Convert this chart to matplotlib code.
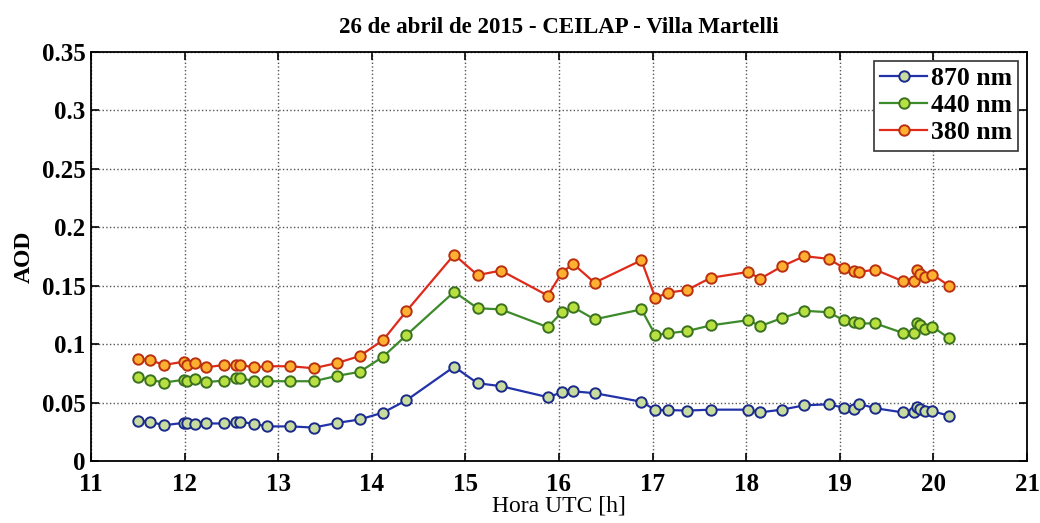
import numpy as np
import matplotlib.pyplot as plt

# hora UTC [h]
hora = [11.50, 11.63, 11.78, 11.99, 12.03, 12.11, 12.23, 12.42, 12.55, 12.59,
        12.74, 12.88, 13.13, 13.38, 13.63, 13.87, 14.12, 14.37, 14.88, 15.13,
        15.38, 15.88, 16.03, 16.15, 16.38, 16.88, 17.03, 17.16, 17.37, 17.62,
        18.02, 18.15, 18.38, 18.62, 18.88, 19.04, 19.15, 19.20, 19.38, 19.67,
        19.79, 19.83, 19.86, 19.91, 19.99, 20.17]

aod_870 = [0.0347, 0.0339, 0.0310, 0.0330, 0.0325, 0.0320, 0.0325, 0.0325, 0.0336, 0.0340,
           0.0322, 0.0300, 0.0300, 0.0290, 0.0330, 0.0359, 0.0418, 0.0523, 0.0810, 0.0669,
           0.0644, 0.0550, 0.0590, 0.0600, 0.0584, 0.0511, 0.0440, 0.0440, 0.0435, 0.0443,
           0.0443, 0.0420, 0.0443, 0.0480, 0.0489, 0.0460, 0.0452, 0.0494, 0.0455, 0.0420,
           0.0420, 0.0463, 0.0450, 0.0435, 0.0430, 0.0390]

aod_440 = [0.0720, 0.0698, 0.0675, 0.0698, 0.0692, 0.0706, 0.0678, 0.0692, 0.0715, 0.0715,
           0.0686, 0.0686, 0.0686, 0.0686, 0.0732, 0.0766, 0.0895, 0.1080, 0.1450, 0.1310,
           0.1300, 0.1148, 0.1275, 0.1320, 0.1215, 0.1300, 0.1080, 0.1095, 0.1115, 0.1163,
           0.1208, 0.1157, 0.1225, 0.1288, 0.1276, 0.1208, 0.1194, 0.1180, 0.1180, 0.1100,
           0.1100, 0.1180, 0.1166, 0.1130, 0.1152, 0.1052]

aod_380 = [0.0876, 0.0867, 0.0825, 0.0853, 0.0828, 0.0842, 0.0805, 0.0825, 0.0825, 0.0825,
           0.0805, 0.0814, 0.0814, 0.0797, 0.0842, 0.0901, 0.1037, 0.1285, 0.1768, 0.1593,
           0.1632, 0.1418, 0.1613, 0.1690, 0.1528, 0.1720, 0.1396, 0.1443, 0.1466, 0.1570,
           0.1620, 0.1562, 0.1667, 0.1755, 0.1732, 0.1656, 0.1627, 0.1620, 0.1639, 0.1542,
           0.1542, 0.1633, 0.1605, 0.1580, 0.1598, 0.1500]

plt.rcParams['font.family'] = ['Liberation Serif', 'DejaVu Serif']

fig = plt.figure(figsize=(10.4, 5.23), dpi=100)
ax = fig.add_axes([0.0875, 0.1176, 0.9, 0.783])

ax.plot(hora, aod_870, '-o', color='#2233aa', lw=1.6, ms=7.5,
        mfc='#c8dca0', mec='#1a2a8a', mew=1.4, label='870 nm')
ax.plot(hora, aod_440, '-o', color='#3d8a2a', lw=1.6, ms=7.5,
        mfc='#b8e040', mec='#3a7020', mew=1.4, label='440 nm')
ax.plot(hora, aod_380, '-o', color='#dd2a1a', lw=1.6, ms=7.5,
        mfc='#ffb030', mec='#b83010', mew=1.4, label='380 nm')

ax.set_xlim(11, 21)
ax.set_ylim(0, 0.35)
ax.set_xticks(np.arange(11, 22, 1))
ax.set_yticks([0, 0.05, 0.1, 0.15, 0.2, 0.25, 0.3, 0.35])
ax.set_yticklabels(['0', '0.05', '0.1', '0.15', '0.2', '0.25', '0.3', '0.35'])
ax.grid(True, linestyle=':', color='#555555', lw=1.0)
ax.tick_params(direction='in', top=True, right=True, length=6, width=1.2,
               labelsize=18)
ax.tick_params(axis='x', pad=8)
ax.tick_params(axis='y', pad=4)
for lbl in ax.get_xticklabels() + ax.get_yticklabels():
    lbl.set_fontweight('bold')
for s in ax.spines.values():
    s.set_linewidth(1.3)

ax.set_xlabel('Hora UTC [h]', fontsize=17, labelpad=0)
ax.set_ylabel('AOD', fontsize=17, fontweight='bold', labelpad=5)
ax.set_title('26 de abril de 2015 - CEILAP - Villa Martelli', fontsize=16.5,
             fontweight='bold', pad=14)

leg = ax.legend(loc='upper right', prop={'size': 18.5, 'weight': 'bold'},
                fancybox=False, edgecolor='#333333', framealpha=1,
                handlelength=1.8, borderpad=0.25, labelspacing=0.15,
                handletextpad=0.15, borderaxespad=0.35)
leg.get_frame().set_linewidth(1.2)

fig.savefig('out.png', dpi=100)
